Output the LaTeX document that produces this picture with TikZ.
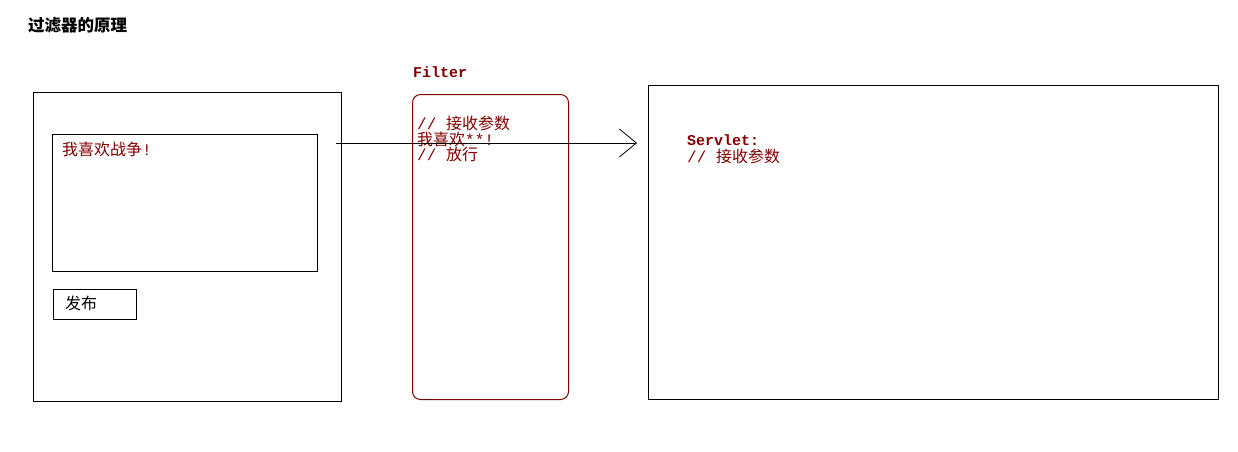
\documentclass[tikz,border=0pt]{standalone}
\usepackage{fontspec}
\setmonofont{Liberation Mono}
\newfontfamily\cjk{Noto Sans CJK SC}
\usetikzlibrary{arrows.meta}
\definecolor{darkred}{RGB}{128,0,0}

\begin{document}
\begin{tikzpicture}[x=1pt,y=-1pt]
        \tikzstyle{box}  = [rectangle, draw=black, line width=1pt, anchor=north west, inner sep=0pt]
        \tikzstyle{fbox} = [box, draw=darkred, rounded corners=8pt]
        \tikzstyle{txt}  = [anchor=base west, inner sep=0pt, font=\cjk\fontsize{16}{16}\selectfont]
        \tikzstyle{rtxt} = [txt, text=darkred]

        \useasboundingbox (0,0) rectangle (1238,451);

        \node(title)   [txt, font=\cjk\bfseries\fontsize{16.5}{16}\selectfont] at (28,31) {过滤器的原理};

        % browser page
        \node(page)    [box, minimum width=308pt, minimum height=309pt] at (33,92) {};
        \node(area)    [box, minimum width=265pt, minimum height=137pt] at (52,134) {};
        \node(msg)     [rtxt] at (62,155) {我喜欢战争{\ttfamily!}};
        \node(btn)     [box, minimum width=83pt, minimum height=30pt] at (53,289) {};
        \node(btntxt)  [txt] at (65,309) {发布};

        % filter
        \node(fname)   [rtxt, font=\ttfamily\bfseries\fontsize{15}{15}\selectfont] at (413,77) {Filter};
        \node(filter)  [fbox, minimum width=156pt, minimum height=305pt] at (412,94) {};
        \node(fline1)  [rtxt] at (417,129) {{\ttfamily// }接收参数};
        \node(fline2)  [rtxt] at (417,145) {我喜欢{\ttfamily**!}};
        \node(fline3)  [rtxt] at (417,160) {{\ttfamily// }放行};

        % servlet
        \node(servlet) [box, minimum width=570pt, minimum height=314pt] at (648,85) {};
        \node(sname)   [rtxt, font=\ttfamily\bfseries\fontsize{15}{15}\selectfont] at (687,145) {Servlet:};
        \node(sline1)  [rtxt] at (687,162) {{\ttfamily// }接收参数};

        \coordinate(src) at (336,143);
        \coordinate(dst) at (637,143);
        \draw[-{Straight Barb[length=17pt, width=28pt]}, line width=0.8pt] (src) -- (dst);
      \end{tikzpicture}
\end{document}
